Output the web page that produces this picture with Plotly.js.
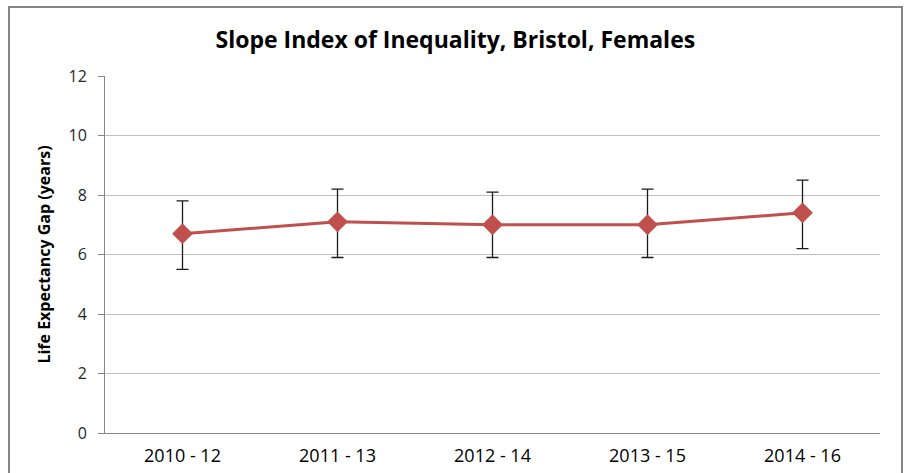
<!DOCTYPE html>
<html>
<head>
<meta charset="utf-8">
<script src="https://cdn.plot.ly/plotly-3.0.1.min.js"></script>
<style>html,body{margin:0;padding:0;background:#fff;}#chart{width:907px;height:473px;}</style>
</head>
<body>
<div id="chart"></div>
<script>
var periods = ["2010 - 12", "2011 - 13", "2012 - 14", "2013 - 15", "2014 - 16"];
var gapValues = [6.7, 7.1, 7.0, 7.0, 7.4];
var upperCI = [7.8, 8.2, 8.1, 8.2, 8.5];
var lowerCI = [5.5, 5.9, 5.9, 5.9, 6.2];
var yTicks = [0, 2, 4, 6, 8, 10, 12];

var errPlus = gapValues.map(function(v, i){ return upperCI[i] - v; });
var errMinus = gapValues.map(function(v, i){ return v - lowerCI[i]; });

var FONT = 'Open Sans, Liberation Sans, Arial, sans-serif';

var trace = {
  x: periods,
  y: gapValues,
  type: 'scatter',
  mode: 'lines+markers',
  line: {color: '#C0504D', width: 3},
  marker: {symbol: 'diamond', size: 16, color: '#C0504D'},
  error_y: {type: 'data', symmetric: false, array: errPlus, arrayminus: errMinus,
            color: '#1a1a1a', thickness: 1.3, width: 6},
  hoverinfo: 'x+y'
};

var L = 105, R = 27, T = 76, B = 40;
var pw = 907 - L - R, ph = 473 - T - B;
function px(x){ return (x - L) / pw; }
function py(y){ return (473 - B - y) / ph; }

var layout = {
  width: 907, height: 473,
  margin: {l: L, r: R, t: T, b: B},
  paper_bgcolor: '#ffffff', plot_bgcolor: '#ffffff',
  showlegend: false,
  font: {family: FONT, color: '#262626'},
  title: {text: '<b>Slope Index of Inequality, Bristol, Females</b>',
          font: {family: FONT, size: 23, color: '#000'},
          x: 0.502, xanchor: 'center', y: 1 - 40/473, yanchor: 'middle'},
  xaxis: {
    type: 'category', range: [-0.5, 4.5], tickvals: periods, ticktext: periods,
    showgrid: false, showline: true, linecolor: '#868686', linewidth: 1,
    ticks: '', ticklabelstandoff: 6, tickfont: {family: FONT, size: 18, color: '#000'},
    zeroline: false, fixedrange: true
  },
  yaxis: {
    range: [0, 12], tickvals: yTicks, ticktext: yTicks.map(String),
    showgrid: true, gridcolor: '#bfbfbf', gridwidth: 1,
    showline: true, linecolor: '#868686', linewidth: 1,
    ticks: 'outside', ticklen: 6, tickcolor: '#868686', ticklabelstandoff: 8,
    tickfont: {family: FONT, size: 16, color: '#262626'},
    zeroline: false, fixedrange: true,
    title: {text: '<b>Life Expectancy Gap (years)</b>', standoff: 13,
            font: {family: FONT, size: 16, color: '#000'}}
  },
  shapes: [
    {type: 'rect', xref: 'paper', yref: 'paper',
     x0: px(9), x1: px(902), y0: py(490), y1: py(7),
     line: {color: '#868686', width: 2}, fillcolor: 'rgba(0,0,0,0)', layer: 'below'}
  ]
};

Plotly.newPlot('chart', [trace], layout, {staticPlot: true, displayModeBar: false});
</script>
</body>
</html>
